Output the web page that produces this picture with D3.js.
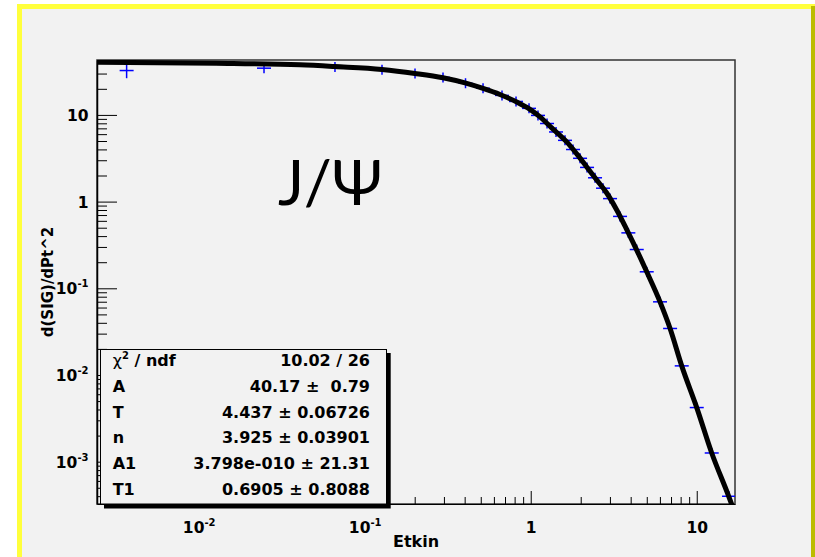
<!DOCTYPE html>
<html>
<head>
<meta charset="utf-8">
<script src="https://cdn.jsdelivr.net/npm/d3@7"></script>
<style>
  body { margin: 0; background: #fff; }
  text { font-family: "DejaVu Sans", sans-serif; font-weight: bold; }
</style>
</head>
<body>
<svg id="chart" width="815" height="557"></svg>
<script>
// measured points: Etkin, d(SIG)/dPt^2 and its error
const ptX = [0.00368, 0.02474, 0.0662, 0.1271, 0.2009, 0.2962, 0.4047, 0.5161, 0.6714, 0.8155,
             0.9767, 1.106, 1.254, 1.420, 1.609, 1.798, 1.982, 2.184, 2.440, 2.726,
             3.004, 3.451, 3.873, 4.351, 4.998, 6.01, 6.91, 8.12, 10.0, 12.31, 15.65];
const ptY = [32.5, 34.6, 35.8, 33.1, 30.1, 27.1, 23.2, 20.3, 16.8, 14.3,
             11.9, 9.87, 7.96, 6.36, 5.09, 3.99, 3.16, 2.48, 1.883, 1.428,
             1.083, 0.675, 0.436, 0.28, 0.155, 0.0698, 0.0344, 0.01274, 0.00421, 0.00126, 0.000399];
const ptErr = [6, 3.8, 3.5, 3.2, 2.8, 2.5, 2.1, 1.8, 1.5, 1.2,
               1.0, 0.8, 0.62, 0.48, 0.38, 0.29, 0.22, 0.17, 0.12, 0.09,
               0.065, 0.04, 0.025, 0.016, 0.009, 0.004, 0.0019, 0.0007, 0.00023, 0.00007, 0.00003];

// fit curve
const fitX = [0.00244, 0.01272, 0.04075, 0.0662, 0.1271, 0.2009, 0.2962, 0.4019, 0.5161, 0.653,
              0.8235, 0.990, 1.138, 1.338, 1.648, 1.893, 2.175, 2.498, 2.870, 3.297,
              3.787, 4.351, 4.998, 6.01, 6.91, 8.12, 10.0, 12.31, 15.5, 16.32];
const fitY = [40.4, 39.5, 37.8, 36.1, 33.5, 30.1, 26.8, 23.4, 20.2, 17.2,
              14.1, 11.6, 9.48, 7.08, 4.88, 3.55, 2.51, 1.776, 1.257, 0.800,
              0.476, 0.276, 0.155, 0.0698, 0.0344, 0.01274, 0.00421, 0.00126, 0.000409, 0.000314];

const xMajor = [0.01, 0.1, 1, 10];
const xTickLabels = [["10", "-2"], ["10", "-1"], ["1", ""], ["10", ""]];
const yMajor = [0.001, 0.01, 0.1, 1, 10];
const yTickLabels = [["10", "-3"], ["10", "-2"], ["10", "-1"], ["1", ""], ["10", ""]];

const statNames = ["chi2", "A", "T", "n", "A1", "T1"];
const statValues = ["10.02 / 26", "40.17 \u00b1  0.79", "4.437 \u00b1 0.06726",
                    "3.925 \u00b1 0.03901", "3.798e-010 \u00b1 21.31", "0.6905 \u00b1 0.8088"];

const plot = { left: 97, right: 735, top: 60, bottom: 504 };
const svg = d3.select("#chart");

// canvas border
svg.append("rect").attr("x", 17).attr("y", 4).attr("width", 798).attr("height", 553).attr("fill", "#ffff3c");
svg.append("rect").attr("x", 811).attr("y", 6).attr("width", 4).attr("height", 551).attr("fill", "#bcbc00");
svg.append("rect").attr("x", 22).attr("y", 9).attr("width", 789).attr("height", 548).attr("fill", "#f2f2f2");

const x = d3.scaleLog().domain([0.00244, 17]).range([plot.left, plot.right]);
const y = d3.scaleLog().domain([3.25e-4, 43]).range([plot.bottom, plot.top]);

const isMajor = v => Math.abs(Math.log10(v) - Math.round(Math.log10(v))) < 1e-6;

svg.append("clipPath").attr("id", "clip")
    .append("rect")
    .attr("x", plot.left).attr("y", plot.top)
    .attr("width", plot.right - plot.left).attr("height", plot.bottom - plot.top);

// frame
svg.append("rect")
    .attr("x", plot.left).attr("y", plot.top)
    .attr("width", plot.right - plot.left).attr("height", plot.bottom - plot.top)
    .attr("fill", "none").attr("stroke", "#333").attr("stroke-width", 1.5);

const marks = svg.append("g").attr("clip-path", "url(#clip)");

// data points with error bars
const pts = marks.selectAll(".pt")
    .data(ptX.map((v, i) => ({ x: v, y: ptY[i], e: ptErr[i] })))
    .enter().append("g")
    .attr("class", "pt");

pts.append("line")
    .attr("x1", d => x(d.x)).attr("x2", d => x(d.x))
    .attr("y1", d => Math.min(y(d.y + d.e), y(d.y) - 5))
    .attr("y2", d => Math.max(y(d.y - d.e), y(d.y) + 5))
    .attr("stroke", "#0000ff").attr("stroke-width", 1.5);

pts.append("line")
    .attr("x1", d => x(d.x) - 7).attr("x2", d => x(d.x) + 7)
    .attr("y1", d => y(d.y)).attr("y2", d => y(d.y))
    .attr("stroke", "#0000ff").attr("stroke-width", 1.5);

// fit curve
const line = d3.line()
    .x(d => x(d[0]))
    .y(d => y(d[1]))
    .curve(d3.curveMonotoneX);

marks.append("path")
    .datum(fitX.map((v, i) => [v, fitY[i]]))
    .attr("d", line)
    .attr("fill", "none")
    .attr("stroke", "#000")
    .attr("stroke-width", 5)
    .attr("stroke-linejoin", "round");

// superscript labels like 10^-2
function writeLabel(sel, lab) {
    sel.text(lab[0]);
    if (lab[1]) {
        sel.append("tspan")
            .attr("dy", -7)
            .attr("font-size", 10)
            .text(lab[1]);
    }
}

// x axis
svg.append("g")
    .attr("transform", `translate(0,${plot.bottom})`)
    .call(d3.axisBottom(x).tickValues(x.ticks().filter(v => !isMajor(v))).tickSize(-7).tickSizeOuter(0).tickFormat(""))
    .call(g => g.select(".domain").remove());

const gx = svg.append("g")
    .attr("transform", `translate(0,${plot.bottom})`)
    .call(d3.axisBottom(x).tickValues(xMajor).tickSize(-13).tickSizeOuter(0).tickFormat(""));
gx.select(".domain").attr("stroke", "#000");
gx.selectAll(".tick text")
    .attr("y", 29).attr("dy", null)
    .attr("font-size", 15.5)
    .attr("font-family", null)
    .each(function (d, i) { writeLabel(d3.select(this), xTickLabels[i]); });

// y axis
svg.append("g")
    .attr("transform", `translate(${plot.left},0)`)
    .call(d3.axisLeft(y).tickValues(y.ticks().filter(v => !isMajor(v))).tickSize(-10).tickSizeOuter(0).tickFormat(""))
    .call(g => g.select(".domain").remove());

const gy = svg.append("g")
    .attr("transform", `translate(${plot.left},0)`)
    .call(d3.axisLeft(y).tickValues(yMajor).tickSize(-20).tickSizeOuter(0).tickFormat(""));
gy.select(".domain").attr("stroke", "#000").attr("stroke-width", 1.5);
gy.selectAll(".tick text")
    .attr("x", -8.5).attr("dy", "0.36em")
    .attr("font-size", 15.5)
    .attr("font-family", null)
    .each(function (d, i) { writeLabel(d3.select(this), yTickLabels[i]); });

// axis titles
svg.append("text")
    .attr("x", (plot.left + plot.right) / 2).attr("y", 547)
    .attr("text-anchor", "middle")
    .attr("font-size", 16)
    .text("Etkin");

svg.append("text")
    .attr("transform", `translate(53,${(plot.top + plot.bottom) / 2}) rotate(-90)`)
    .attr("text-anchor", "middle")
    .attr("font-size", 15)
    .text("d(SIG)/dPt^2");

// J/Psi annotation
svg.append("text")
    .attr("x", 278).attr("y", 205)
    .style("font-family", "Lato, sans-serif")
    .style("font-weight", "normal")
    .attr("font-size", 62)
    .text("J/\u03a8");

// stats box
svg.append("rect")
    .attr("x", 104).attr("y", 353).attr("width", 286.7).attr("height", 155.5)
    .attr("fill", "#000");
svg.append("rect")
    .attr("x", 100.5).attr("y", 349.5).attr("width", 286).attr("height", 154.5)
    .attr("fill", "#f2f2f2").attr("stroke", "#000").attr("stroke-width", 1);

const rowY = d3.scaleLinear().domain([0, 5]).range([366, 495]);

statNames.forEach((name, i) => {
    const t = svg.append("text")
        .attr("x", 112.7).attr("y", rowY(i))
        .attr("font-size", 16);
    if (name === "chi2") {
        t.append("tspan").style("font-weight", "normal").text("\u03c7");
        t.append("tspan").attr("dy", -7).attr("font-size", 10).text("2");
        t.append("tspan").attr("dy", 7).style("white-space", "pre").text(" / ndf");
    } else {
        t.text(name);
    }
    svg.append("text")
        .attr("x", 370).attr("y", rowY(i))
        .attr("text-anchor", "end")
        .attr("font-size", 16)
        .style("white-space", "pre")
        .text(statValues[i]);
});
</script>
</body>
</html>
